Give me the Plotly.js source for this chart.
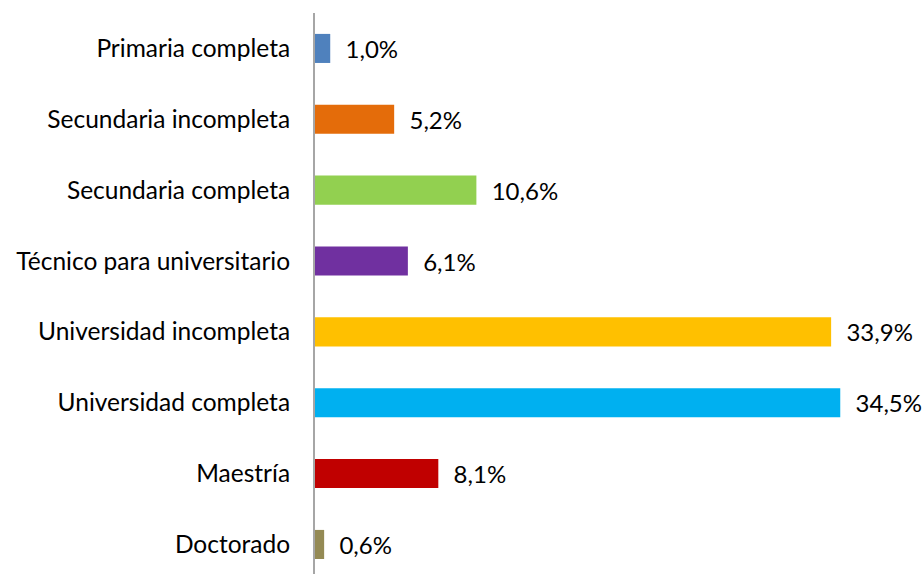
<!DOCTYPE html>
<html>
<head>
<meta charset="utf-8">
<script src="https://cdn.plot.ly/plotly-3.0.1.min.js"></script>
<style>html,body{margin:0;padding:0;background:#fff;}#chart{width:924px;height:574px;}</style>
</head>
<body>
<div id="chart"></div>
<script>
const categories = ["Primaria completa","Secundaria incompleta","Secundaria completa","Técnico para universitario","Universidad incompleta","Universidad completa","Maestría","Doctorado"];
const values = [1.0, 5.2, 10.6, 6.1, 33.9, 34.5, 8.1, 0.6];
const colors = ["#4F81BD","#E46C0A","#92D050","#7030A0","#FFC000","#00B0F0","#C00000","#948A54"];
const labels = values.map(v => "\u00a0\u00a0" + v.toFixed(1).replace('.', ',') + "%");

const FONT = 'Lato, "Open Sans", sans-serif';

const trace = {
  type: 'bar',
  orientation: 'h',
  y: categories,
  x: values,
  marker: {color: colors},
  text: labels,
  textposition: 'outside',
  cliponaxis: false,
  textfont: {family: FONT, size: 24, color: '#000'},
  hoverinfo: 'none'
};

const layout = {
  width: 924, height: 574,
  margin: {l: 315, r: 0, t: 13, b: 0},
  paper_bgcolor: '#fff', plot_bgcolor: '#fff',
  showlegend: false,
  bargap: 0.59,
  font: {family: FONT, size: 24.5, color: '#000'},
  xaxis: {range: [0, 40], visible: false, showgrid: false, zeroline: false, fixedrange: true},
  yaxis: {
    type: 'category',
    categoryorder: 'array', categoryarray: categories,
    range: [7.417, -0.5],
    showline: true, linecolor: '#A6A6A6', linewidth: 2,
    showgrid: false, zeroline: false,
    ticks: '', ticklabelstandoff: 18,
    tickfont: {family: FONT, size: 24.5, color: '#000'}
  }
};

Plotly.newPlot('chart', [trace], layout, {staticPlot: true, displayModeBar: false});
</script>
</body>
</html>
